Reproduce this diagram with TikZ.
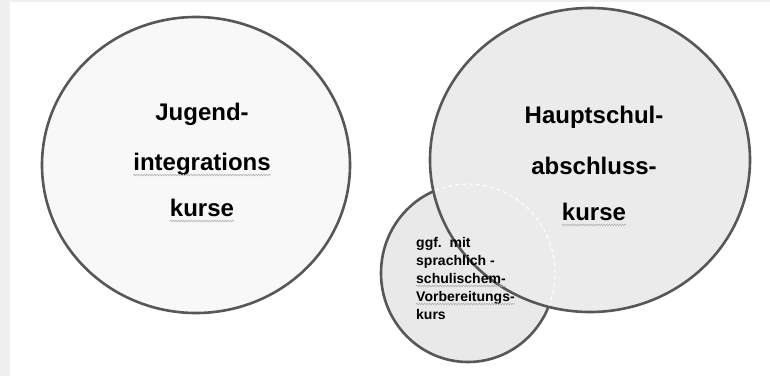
\documentclass[tikz,border=0pt]{standalone}
\usepackage{fontspec}
\setmainfont{Liberation Sans}
\usetikzlibrary{decorations.pathmorphing}

\definecolor{rimgray}{HTML}{575757}
\definecolor{pagegray}{HTML}{F0F0F0}
\definecolor{leftfill}{HTML}{F8F8F8}
\definecolor{rightfill}{HTML}{EBEBEB}
\definecolor{smallfill}{HTML}{E9E9E9}

\tikzset{
  bubble/.style={draw=rimgray, line width=2.6pt},
  bigword/.style={font=\fontsize{24}{28}\selectfont\bfseries, inner sep=0pt, anchor=base},
  smallword/.style={font=\fontsize{14}{16}\selectfont\bfseries, inner sep=0pt, anchor=base west},
  squiggle/.style={gray!60, line width=0.6pt, decorate,
    decoration={snake, amplitude=0.8pt, segment length=2.6pt}}
}

\begin{document}
\begin{tikzpicture}[x=1pt, y=1pt]
    % page
    \fill [pagegray] (0, 0) rectangle (770, 376);
    \fill [white] (10, 0) rectangle (770, 374);
    \useasboundingbox (0, 0) rectangle (770, 376);

    \coordinate (L) at (196, 211);
    \coordinate (R) at (590, 216);
    \coordinate (S) at (468, 103);

    % bubbles
    \fill [leftfill] (L) ellipse [x radius=154, y radius=148];
    \draw [bubble] (L) ellipse [x radius=154, y radius=148];
    \fill [smallfill] (S) ellipse [x radius=87, y radius=89];
    \draw [bubble] (S) ellipse [x radius=87, y radius=89];
    \fill [rightfill] (R) ellipse [x radius=160, y radius=152];
    \draw [bubble] (R) ellipse [x radius=160, y radius=152];
    \begin{scope}
      \clip (R) ellipse [x radius=158.5, y radius=150.5];
      \draw [white, line width=1pt, dash pattern=on 4pt off 3pt] (S) ellipse [x radius=87, y radius=89];
    \end{scope}

    % left text
    \node [bigword] (jugend) at (202, 256) {Jugend-};
    \node [bigword] (integ) at (202, 206) {integrations};
    \node [bigword] (kursel) at (202, 160) {kurse};

    % right text
    \node [bigword] (haupt) at (594, 253) {Hauptschul-};
    \node [bigword] (abschl) at (594, 202) {abschluss-};
    \node [bigword] (kurser) at (594, 156) {kurse};

    % small text
    \node [smallword] (ggf) at (416, 129) {ggf.\ \ mit};
    \node [smallword] (sprach) at (416, 111) {sprachlich -};
    \node [smallword] (schul) at (416, 93) {schulischem-};
    \node [smallword] (vorb) at (416, 75) {Vorbereitungs-};
    \node [smallword] (kurs) at (416, 57) {kurs};

    % spelling marks
    \draw [squiggle] ([yshift=-5pt]integ.base west) -- ([yshift=-5pt]integ.base east);
    \draw [squiggle] ([yshift=-5pt]kursel.base west) -- ([yshift=-5pt]kursel.base east);
    \draw [squiggle] ([yshift=-5pt]kurser.base west) -- ([yshift=-5pt]kurser.base east);
    \draw [squiggle] ([yshift=-3pt]schul.base west) -- ([yshift=-3pt]schul.base east);
    \draw [squiggle] ([yshift=-3pt]vorb.base west) -- ([yshift=-3pt]vorb.base east);
\end{tikzpicture}
\end{document}
